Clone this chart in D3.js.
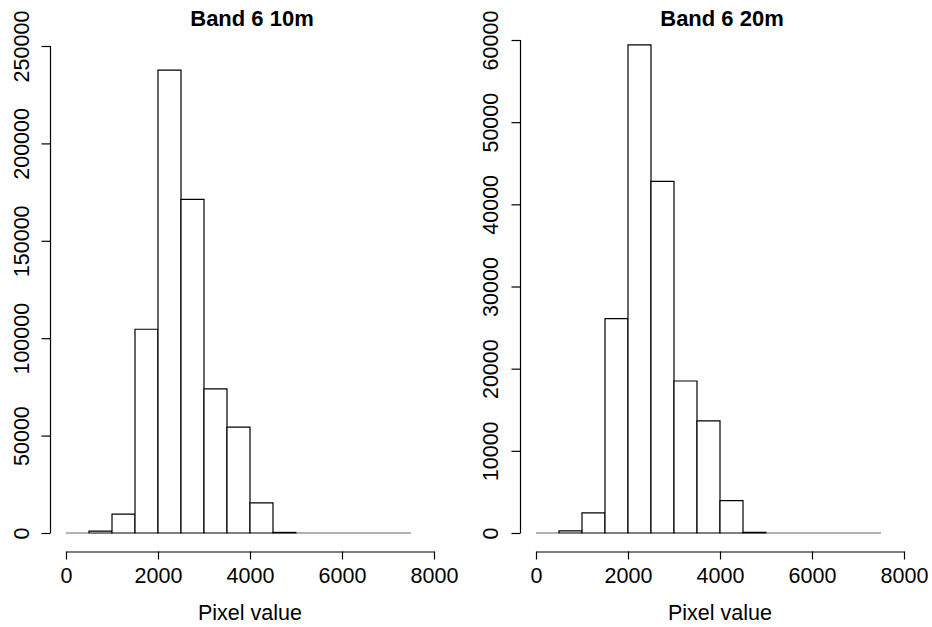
<!DOCTYPE html>
<html>

<head>
  <title>Band 6 histograms</title>
  <style type="text/css">
    body {
      margin: 0;
      background: #fff;
    }

    text {
      font-family: "Liberation Sans", Arial, Helvetica, sans-serif;
      fill: #000;
    }
  </style>
</head>

<body>
  <div id="chart"></div>
  <script type="text/javascript" src="https://cdn.jsdelivr.net/npm/d3@7"></script>
  <script type="text/javascript">
    // histogram breaks (pixel value), 500 wide
    var breaks = d3.range(0, 8000, 500);
    var xTicks = [0, 2000, 4000, 6000, 8000];

    // counts per bin
    var counts10m = [0, 1000, 9700, 104600, 237600, 171300, 74000, 54400, 15500, 300, 0, 0, 0, 0, 0];
    var counts20m = [0, 250, 2450, 26100, 59400, 42800, 18500, 13650, 3950, 80, 0, 0, 0, 0, 0];

    var yTicks10m = [0, 50000, 100000, 150000, 200000, 250000];
    var yTicks20m = [0, 10000, 20000, 30000, 40000, 50000, 60000];

    var titles = ["Band 6 10m", "Band 6 20m"];
    var xLabel = "Pixel value";

    var w = 932, h = 627;
    var fs = "21.5px";

    var svg = d3.select("#chart").append("svg")
      .attr("width", w)
      .attr("height", h);

    var panels = [
      { title: titles[0], counts: counts10m, yTicks: yTicks10m, x0: 66, x1: 434, yAxisX: 50.5, yTop: 46, yMax: 250000, yLabX: 22 },
      { title: titles[1], counts: counts20m, yTicks: yTicks20m, x0: 536, x1: 904, yAxisX: 520.5, yTop: 40, yMax: 60000, yLabX: 491 }
    ];

    panels.forEach(drawPanel);

    function drawPanel(p) {
      var g = svg.append("g");

      var x = d3.scaleLinear().domain([0, 8000]).range([p.x0, p.x1]);
      var y = d3.scaleLinear().domain([0, p.yMax]).range([533, p.yTop]);

      var bins = breaks.slice(0, p.counts.length).map(function (b, i) {
        return { lo: b, hi: b + 500, n: p.counts[i] };
      });

      // R draws empty bins as a flat line, so use paths not rects
      g.selectAll("path.bar")
        .data(bins)
        .enter().append("path")
        .attr("class", "bar")
        .attr("d", function (d) {
          return "M" + x(d.lo) + "," + y(0) + "V" + y(d.n) + "H" + x(d.hi) + "V" + y(0) + "Z";
        })
        .style("fill", "#fff")
        .style("stroke", function (d) { return d.n > 0 ? "#000" : "#666"; })
        .style("stroke-width", 1.2);

      // x axis
      var xa = g.append("g")
        .attr("transform", "translate(0,551.5)")
        .call(d3.axisBottom(x).tickValues(xTicks).tickSize(8).tickSizeOuter(0).tickPadding(8).tickFormat(d3.format("d")));
      styleAxis(xa);

      // y axis
      var ya = g.append("g")
        .attr("transform", "translate(" + p.yAxisX + ",0)")
        .call(d3.axisLeft(y).tickValues(p.yTicks).tickSize(9).tickSizeOuter(0).tickFormat(d3.format("d")));
      ya.select(".domain").attr("d", "M0," + y(p.yTicks[p.yTicks.length - 1]) + "V" + y(0));
      styleAxis(ya);
      ya.selectAll("text")
        .attr("x", null).attr("dy", null)
        .attr("text-anchor", "middle")
        .attr("transform", "translate(" + (p.yLabX - p.yAxisX + 7) + ",0) rotate(-90)");

      // title
      g.append("text")
        .attr("x", (p.x0 + p.x1) / 2 + 2)
        .attr("y", 26)
        .attr("text-anchor", "middle")
        .style("font-size", "22px")
        .style("font-weight", "bold")
        .text(p.title);

      // x label
      g.append("text")
        .attr("x", (p.x0 + p.x1) / 2 + 0)
        .attr("y", 620)
        .attr("text-anchor", "middle")
        .style("font-size", fs)
        .text(xLabel);
    }

    function styleAxis(a) {
      a.select(".domain").style("stroke", "#000").style("stroke-width", 1.2);
      a.selectAll(".tick line").style("stroke", "#000").style("stroke-width", 1.2);
      a.selectAll("text")
        .style("fill", "#000")
        .style("font-size", fs)
        .style("font-family", "'Liberation Sans', Arial, sans-serif");
    }
  </script>
</body>

</html>
